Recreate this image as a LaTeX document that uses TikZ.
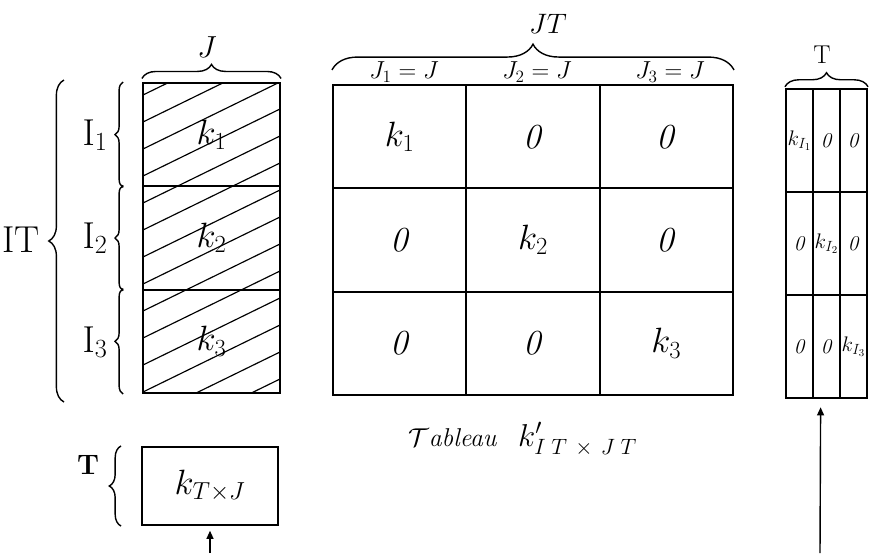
\RequirePackage{fix-cm}
\documentclass[tikz,border=0pt]{standalone}
\usepackage{amsmath}
\usetikzlibrary{arrows.meta,decorations.pathreplacing,positioning}
\newcommand{\cellfont}{\fontsize{30}{32}\selectfont}
\newcommand{\smallcell}{\fontsize{18}{20}\selectfont}
\newcommand{\labfont}{\fontsize{32}{34}\selectfont}
\newcommand{\colfont}{\fontsize{21}{22}\selectfont}
\tikzset{
  box/.style n args={2}{draw, line width=1.8pt, inner sep=0pt, minimum width=#1, minimum height=#2},
  mcell/.style={box={133.3*0.3mm}{103.3*0.3mm}, font=\cellfont},
  lcell/.style={box={137*0.3mm}{103.3*0.3mm}, font=\cellfont},
  rcell/.style={box={27*0.3mm}{103*0.3mm}, font=\smallcell},
  hatch/.style={line width=1pt},
  curly/.style={decorate, decoration={brace, amplitude=#1}, line width=1.2pt},
  lbl/.style={inner sep=0pt, font=\labfont},
  collbl/.style={inner sep=0pt, font=\colfont},
  up/.style={-{Triangle[length=7pt,width=6pt]}, line width=1.2pt},
}
\begin{document}
\begin{tikzpicture}[x=0.3mm, y=-0.3mm]
  \useasboundingbox (0,0) rectangle (870,557);
  % hatched table, rows I_1..I_3
  \begin{scope}
    \clip (143,83) rectangle (280,393);
    \foreach \s in {95,122,...,500} \draw[hatch] (143,\s) -- ++(137,-67);
  \end{scope}
  \node[lcell] (L1) at (211.5,134.7) {$k_1$};
  \node[lcell] (L2) at (211.5,238) {$k_2$};
  \node[lcell] (L3) at (211.5,341.3) {$k_3$};
  \draw[curly=12pt] ([yshift=3pt]L1.north west) -- ([yshift=3pt]L1.north east);
  \node[lbl, font=\fontsize{26}{28}\selectfont] (J) at (207,47) {$J$};
  \draw[curly=7pt] ([xshift=-16pt]L1.south west) -- ([xshift=-16pt]L1.north west);
  \draw[curly=7pt] ([xshift=-16pt]L2.south west) -- ([xshift=-16pt]L2.north west);
  \draw[curly=7pt] ([xshift=-16pt]L3.south west) -- ([xshift=-16pt]L3.north west);
  \node[lbl] (I1) at (95,135) {$\mathrm{I}_1$};
  \node[lbl] (I2) at (95,238) {$\mathrm{I}_2$};
  \node[lbl] (I3) at (95,342) {$\mathrm{I}_3$};
  \coordinate (ITbot) at (64,402);
  \coordinate (ITtop) at (64,80);
  \draw[curly=13pt] (ITbot) -- (ITtop);
  \node[lbl] (IT) at (21,240) {IT};
  % block-diagonal table
  \node[mcell] (M11) at (399.7,136.7) {$k_1$};
  \node[mcell] (M12) at (533,136.7) {\textit{0}};
  \node[mcell] (M13) at (666.3,136.7) {\textit{0}};
  \node[mcell] (M21) at (399.7,240) {\textit{0}};
  \node[mcell] (M22) at (533,240) {$k_2$};
  \node[mcell] (M23) at (666.3,240) {\textit{0}};
  \node[mcell] (M31) at (399.7,343.3) {\textit{0}};
  \node[mcell] (M32) at (533,343.3) {\textit{0}};
  \node[mcell] (M33) at (666.3,343.3) {$k_3$};
  \node[collbl] (J1) at (404,72) {$J_1 = J$};
  \node[collbl] (J2) at (537,72) {$J_2 = J$};
  \node[collbl] (J3) at (670,72) {$J_3 = J$};
  \draw[curly=22pt] ([yshift=12pt]M11.north west) -- ([yshift=12pt]M13.north east);
  \node[lbl, font=\fontsize{24}{26}\selectfont] (JT) at (548,24) {$JT$};
  \node[inner sep=0pt, anchor=base west, font=\fontsize{22}{24}\selectfont] (cap) at (408,446)
    {$\mathcal{T}$\textit{ableau}};
  \node[inner sep=0pt, anchor=base west, font=\fontsize{27}{29}\selectfont] (capk) at (518,446)
    {$k'_{I\hspace{5pt}T\hspace{7pt}\times\hspace{7pt}J\hspace{5pt}T}$};
  % narrow table
  \node[rcell] (R11) at (799.5,140.5) {$k_{I_1}$};
  \node[rcell] (R12) at (826.5,140.5) {\textit{0}};
  \node[rcell] (R13) at (853.5,140.5) {\textit{0}};
  \node[rcell] (R21) at (799.5,243.5) {\textit{0}};
  \node[rcell] (R22) at (826.5,243.5) {$k_{I_2}$};
  \node[rcell] (R23) at (853.5,243.5) {\textit{0}};
  \node[rcell] (R31) at (799.5,346.5) {\textit{0}};
  \node[rcell] (R32) at (826.5,346.5) {\textit{0}};
  \node[rcell] (R33) at (853.5,346.5) {$k_{I_3}$};
  \draw[curly=12pt] ([yshift=1pt]R11.north west) -- ([yshift=1pt]R13.north east);
  \node[lbl, font=\fontsize{22}{24}\selectfont] (T) at (822,55) {$\mathrm{T}$};
  \coordinate (rfoot) at (820,553);
  \draw[up, shorten >=7pt] (rfoot) -- ([xshift=-5pt]R32.south);
  % bottom box
  \node[box={136*0.3mm}{78*0.3mm}, font=\cellfont] (B) at (210,486) {$k_{T\times J}$};
  \draw[curly=10pt] ([xshift=-17pt]B.south west) -- ([xshift=-17pt]B.north west);
  \node[lbl, font=\fontsize{24}{26}\selectfont] (Tb) at (88,465) {\textbf{T}};
  \coordinate (bfoot) at (210,553);
  \draw[up, shorten >=4pt] (bfoot) -- (B.south);
\end{tikzpicture}
\end{document}
